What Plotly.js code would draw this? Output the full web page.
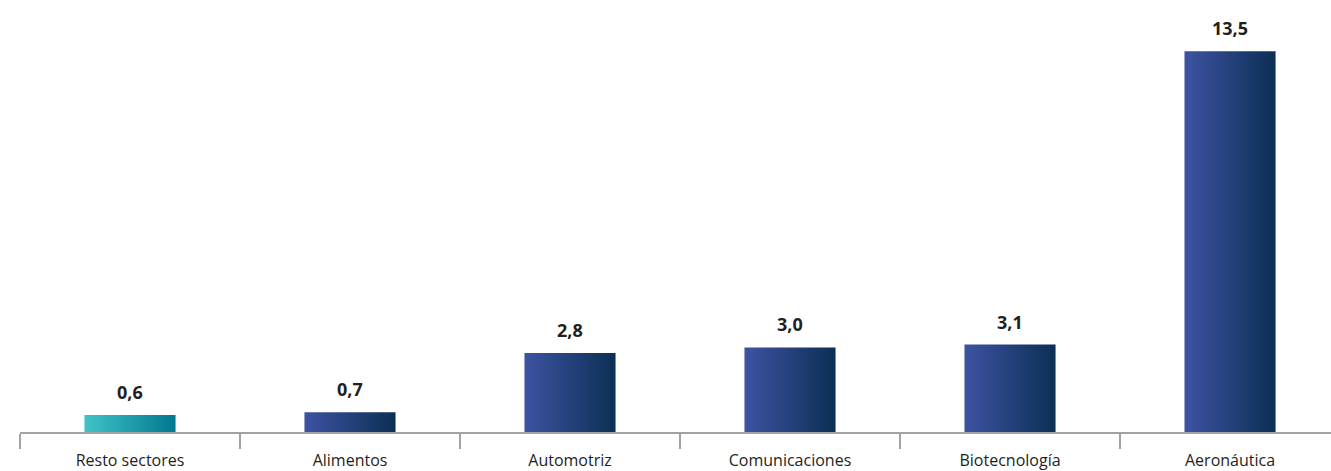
<!DOCTYPE html>
<html>
<head>
<meta charset="utf-8">
<script src="https://cdn.plot.ly/plotly-3.0.1.min.js"></script>
<style>
html,body{margin:0;padding:0;background:#fff;overflow:hidden;}
#chart{width:1331px;height:471px;}
</style>
</head>
<body>
<div id="chart"></div>
<script>
const categories = ["Resto sectores", "Alimentos", "Automotriz", "Comunicaciones", "Biotecnología", "Aeronáutica"];
const values = [0.6, 0.7, 2.8, 3.0, 3.1, 13.5];
const gradLeft = ["#41c3c8", "#3d53a2", "#3d53a2", "#3d53a2", "#3d53a2", "#3d53a2"];
const gradRight = ["#00778f", "#0c2f55", "#0c2f55", "#0c2f55", "#0c2f55", "#0c2f55"];

const labels = values.map(v => v.toFixed(1).replace('.', ','));

const trace = {
  type: 'bar',
  x: categories,
  y: values,
  marker: {color: gradLeft, line: {width: 0}},
  hoverinfo: 'none'
};

const annotations = categories.map((c, i) => ({
  x: c, y: values[i], xref: 'x', yref: 'y',
  text: '<b>' + labels[i] + '</b>',
  showarrow: false, yanchor: 'bottom', yshift: 9,
  font: {family: 'Open Sans, sans-serif', size: 18, color: '#231f20'}
}));

const layout = {
  width: 1331, height: 471,
  margin: {l: 20, r: 0, t: 23, b: 39},
  paper_bgcolor: '#ffffff', plot_bgcolor: '#ffffff',
  showlegend: false,
  bargap: 0.586,
  xaxis: {
    type: 'category',
    range: [-0.5, 5.459],
    showline: true, linecolor: '#a3a3a3', linewidth: 2,
    ticks: 'outside', tickson: 'boundaries', ticklen: 15, tickwidth: 2, tickcolor: '#a3a3a3',
    showgrid: false, zeroline: false,
    tickfont: {family: 'Open Sans, sans-serif', size: 16, color: '#231f20'},
    ticklabelstandoff: 13
  },
  yaxis: {
    range: [0, 14.5],
    visible: false, showgrid: false, zeroline: false
  },
  annotations: annotations
};

Plotly.newPlot('chart', [trace], layout, {staticPlot: true, displayModeBar: false}).then(gd => {
  const svg = gd.querySelector('.main-svg');
  let defs = svg.querySelector('defs');
  const ns = 'http://www.w3.org/2000/svg';
  values.forEach((v, i) => {
    const g = document.createElementNS(ns, 'linearGradient');
    g.setAttribute('id', 'barGrad' + i);
    g.setAttribute('x1', '0'); g.setAttribute('y1', '0');
    g.setAttribute('x2', '1'); g.setAttribute('y2', '0');
    const s1 = document.createElementNS(ns, 'stop');
    s1.setAttribute('offset', '0'); s1.setAttribute('stop-color', gradLeft[i]);
    const s2 = document.createElementNS(ns, 'stop');
    s2.setAttribute('offset', '1'); s2.setAttribute('stop-color', gradRight[i]);
    g.appendChild(s1); g.appendChild(s2);
    defs.appendChild(g);
  });
  const paths = gd.querySelectorAll('.trace.bars .point path');
  paths.forEach((p, i) => { p.style.fill = 'url(#barGrad' + i + ')'; });
});
</script>
</body>
</html>
